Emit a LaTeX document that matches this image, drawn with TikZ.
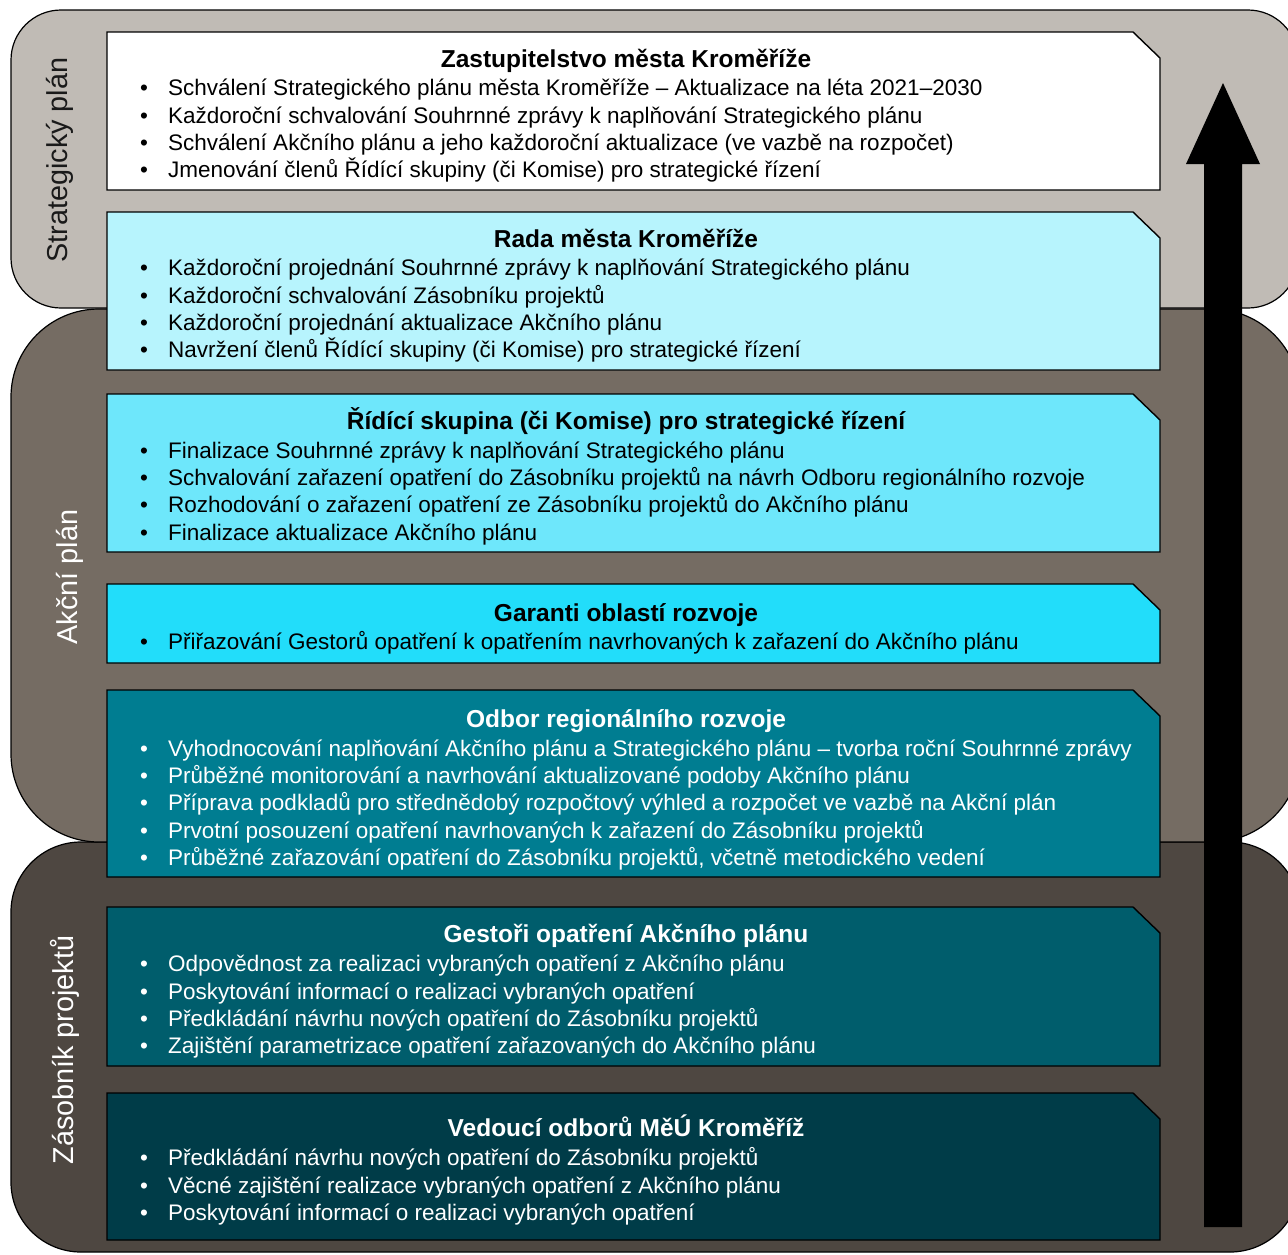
\documentclass[tikz,border=0pt]{standalone}
\usepackage{fontspec}
\setmainfont{Liberation Sans}
\definecolor{pA}{HTML}{C0BBB5}
\definecolor{pB}{HTML}{756C63}
\definecolor{pC}{HTML}{4E4741}
\definecolor{bA}{HTML}{FFFFFF}
\definecolor{bB}{HTML}{B7F4FD}
\definecolor{bC}{HTML}{6EE7FB}
\definecolor{bD}{HTML}{22DDFA}
\definecolor{bE}{HTML}{007D91}
\definecolor{bF}{HTML}{005D6C}
\definecolor{bG}{HTML}{003C48}
\definecolor{txtdark}{HTML}{1A1A1A}
\newcommand{\bx}[3]{% fill, top, bottom
  \draw[boxline,fill=#1] (107,#2) -- (1133,#2) -- (1160,#2+26) -- (1160,#3) -- (107,#3) -- cycle;}
\newcommand{\bitem}[3]{\node[itm,text=#3] at (140,#1) {\makebox[28pt][l]{\textbullet}#2};}
\begin{document}
\begin{tikzpicture}[x=1pt,y=-1pt,
  panel/.style={draw=black,line width=1.2pt},
  boxline/.style={draw=black,line width=1.4pt},
  ttl/.style={anchor=base,font=\fontsize{24.5}{28}\selectfont\bfseries,inner sep=0pt},
  itm/.style={anchor=base west,font=\fontsize{22.5}{26}\selectfont,inner sep=0pt},
  side/.style={rotate=90,font=\fontsize{28.8}{32}\selectfont,inner sep=0pt}]
\useasboundingbox (0,0) rectangle (1288,1254);
\begin{scope}
\clip (0,0) rectangle (1288,1254);
\draw[panel,fill=pC,rounded corners=70pt] (11,842) rectangle (1300,1252);
\draw[panel,fill=pB,rounded corners=88pt] (11,309) rectangle (1300,842);
\draw[panel,fill=pA,rounded corners=50pt] (11,10) rectangle (1298,308);
\end{scope}
\node[side,text=txtdark] (s1) at (60,160) {Strategický plán};
\node[side,text=white] (s2) at (70,577) {Akční plán};
\node[side,text=white] (s3) at (65,1050) {Zásobník projektů};
% boxes
\bx{bA}{32}{190}
\bx{bB}{212}{370}
\bx{bC}{394}{552}
\bx{bD}{584}{663}
\bx{bE}{690}{877}
\bx{bF}{907}{1066}
\bx{bG}{1093}{1240}
% box 1
\node[ttl] (t1) at (626,67) {Zastupitelstvo města Kroměříže};
\bitem{95}{Schválení Strategického plánu města Kroměříže – Aktualizace na léta 2021–2030}{black}
\bitem{123}{Každoroční schvalování Souhrnné zprávy k naplňování Strategického plánu}{black}
\bitem{150}{Schválení Akčního plánu a jeho každoroční aktualizace (ve vazbě na rozpočet)}{black}
\bitem{177}{Jmenování členů Řídící skupiny (či Komise) pro strategické řízení}{black}
% box 2
\node[ttl] (t2) at (626,247) {Rada města Kroměříže};
\bitem{275}{Každoroční projednání Souhrnné zprávy k naplňování Strategického plánu}{black}
\bitem{303}{Každoroční schvalování Zásobníku projektů}{black}
\bitem{330}{Každoroční projednání aktualizace Akčního plánu}{black}
\bitem{357}{Navržení členů Řídící skupiny (či Komise) pro strategické řízení}{black}
% box 3
\node[ttl] (t3) at (626,429) {Řídící skupina (či Komise) pro strategické řízení};
\bitem{458}{Finalizace Souhrnné zprávy k naplňování Strategického plánu}{black}
\bitem{485}{Schvalování zařazení opatření do Zásobníku projektů na návrh Odboru regionálního rozvoje}{black}
\bitem{512}{Rozhodování o zařazení opatření ze Zásobníku projektů do Akčního plánu}{black}
\bitem{540}{Finalizace aktualizace Akčního plánu}{black}
% box 4
\node[ttl] (t4) at (626,621) {Garanti oblastí rozvoje};
\bitem{649}{Přiřazování Gestorů opatření k opatřením navrhovaných k zařazení do Akčního plánu}{black}
% box 5
\node[ttl,text=white] (t5) at (626,727) {Odbor regionálního rozvoje};
\bitem{756}{Vyhodnocování naplňování Akčního plánu a Strategického plánu – tvorba roční Souhrnné zprávy}{white}
\bitem{783}{Průběžné monitorování a navrhování aktualizované podoby Akčního plánu}{white}
\bitem{810}{Příprava podkladů pro střednědobý rozpočtový výhled a rozpočet ve vazbě na Akční plán}{white}
\bitem{838}{Prvotní posouzení opatření navrhovaných k zařazení do Zásobníku projektů}{white}
\bitem{865}{Průběžné zařazování opatření do Zásobníku projektů, včetně metodického vedení}{white}
% box 6
\node[ttl,text=white] (t6) at (626,942) {Gestoři opatření Akčního plánu};
\bitem{971}{Odpovědnost za realizaci vybraných opatření z Akčního plánu}{white}
\bitem{999}{Poskytování informací o realizaci vybraných opatření}{white}
\bitem{1026}{Předkládání návrhu nových opatření do Zásobníku projektů}{white}
\bitem{1053}{Zajištění parametrizace opatření zařazovaných do Akčního plánu}{white}
% box 7
\node[ttl,text=white] (t7) at (626,1136) {Vedoucí odborů MěÚ Kroměříž};
\bitem{1165}{Předkládání návrhu nových opatření do Zásobníku projektů}{white}
\bitem{1193}{Věcné zajištění realizace vybraných opatření z Akčního plánu}{white}
\bitem{1220}{Poskytování informací o realizaci vybraných opatření}{white}
% arrow
\fill[black] (1204,1227) -- (1204,164) -- (1186,164) -- (1223,83) -- (1260,164) -- (1242,164) -- (1242,1227) -- cycle;
\end{tikzpicture}
\end{document}
